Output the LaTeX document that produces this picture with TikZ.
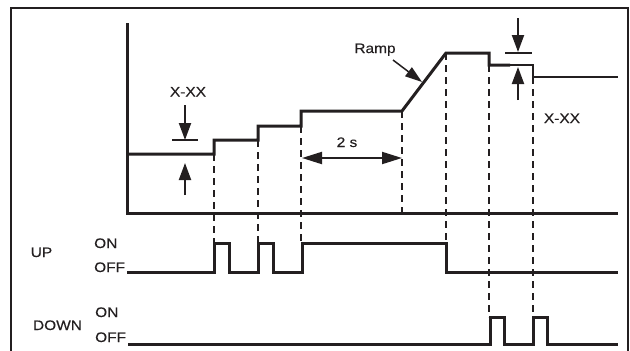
\documentclass[tikz,border=0pt]{standalone}
\usepackage{fontspec}
\setmainfont{Liberation Sans}[FakeStretch=1.12, FakeBold=0.3]
\usetikzlibrary{arrows.meta}
\definecolor{ink}{RGB}{35,31,32}

\begin{document}
\begin{tikzpicture}[x=1pt, y=-1pt,
    sig/.style={line width=3pt, ink},
    thin/.style={line width=1.5pt, ink},
    guide/.style={line width=1.3pt, ink, dash pattern=on 7pt off 5pt},
    dim/.style={line width=2pt, ink, -{Triangle[length=17pt,width=12pt]}},
    lbl/.style={font=\fontsize{13.8}{16}\selectfont, text=ink, inner sep=0pt, anchor=base}]
  \useasboundingbox (0,0) rectangle (630,351);

  % frame
  \draw[line width=2.6pt, ink] (11,351) -- (11,8) -- (628,8) -- (628,351);

  % axes
  \draw[sig] (127,23) -- (127,213) -- (618,213);

  % setpoint steps, ramp and steps down
  \draw[sig] (127,154) -- (214,154) -- (214,140) -- (258,140) -- (258,126)
    -- (301,126) -- (301,111) -- (402,111) -- (446,53) -- (489,53)
    -- (489,65) -- (510,65);
  \draw[thin] (510,65) -- (533,65) -- (533,77) -- (618,77);

  % guide lines
  \draw[guide] (214,154) -- (214,243);
  \draw[guide] (258,140) -- (258,243);
  \draw[guide] (301,126) -- (301,243);
  \draw[guide] (402,111) -- (402,213);
  \draw[guide] (446,53) -- (446,243);
  \draw[guide] (489,65) -- (489,317);
  \draw[guide] (533,77) -- (533,317);

  % UP input
  \node[lbl] (up) at (41.5,257) {UP};
  \node[lbl, anchor=base west] (upon) at (94,248) {ON};
  \node[lbl, anchor=base west] (upoff) at (94,272) {OFF};
  \draw[sig] (upoff.base east) ++(2,0) -- (214,272) -- (214,243) -- (229,243) -- (229,272)
    -- (258,272) -- (258,243) -- (273,243) -- (273,272) -- (302,272)
    -- (302,243) -- (446,243) -- (446,272) -- (618,272);

  % DOWN input
  \node[lbl] (down) at (57.5,330) {DOWN};
  \node[lbl, anchor=base west] (downon) at (95,317) {ON};
  \node[lbl, anchor=base west] (downoff) at (95,342) {OFF};
  \draw[sig] (128,344) -- (490,344) -- (490,317) -- (504,317) -- (504,344)
    -- (533,344) -- (533,317) -- (547,317) -- (547,344) -- (618,344);

  % step size, left
  \node[lbl] (xxa) at (188,96.5) {X-XX};
  \coordinate (ticka) at (185,140);
  \draw[thin] (172,140) -- (198,140);
  \draw[dim] (185,105) -- (ticka);
  \draw[dim] (185,195) -- (185,163);

  % step size, right
  \node[lbl] (xxb) at (562,123) {X-XX};
  \coordinate (tickb) at (518,52);
  \draw[thin] (505,53) -- (532,53);
  \draw[dim] (518,18) -- (tickb);
  \draw[dim] (518,100) -- (518,67);

  % ramp
  \node[lbl] (ramp) at (375,53) {Ramp};
  \draw[line width=1.5pt, ink, -{Triangle[length=17pt,width=11pt]}] (393,60) -- (422,82);

  % 2 s delay
  \node[lbl] (delay) at (347,147) {2 s};
  \draw[line width=2pt, ink, {Triangle[length=20pt,width=12pt]}-{Triangle[length=20pt,width=12pt]}]
    (302,158) -- (402,158);
\end{tikzpicture}
\end{document}
